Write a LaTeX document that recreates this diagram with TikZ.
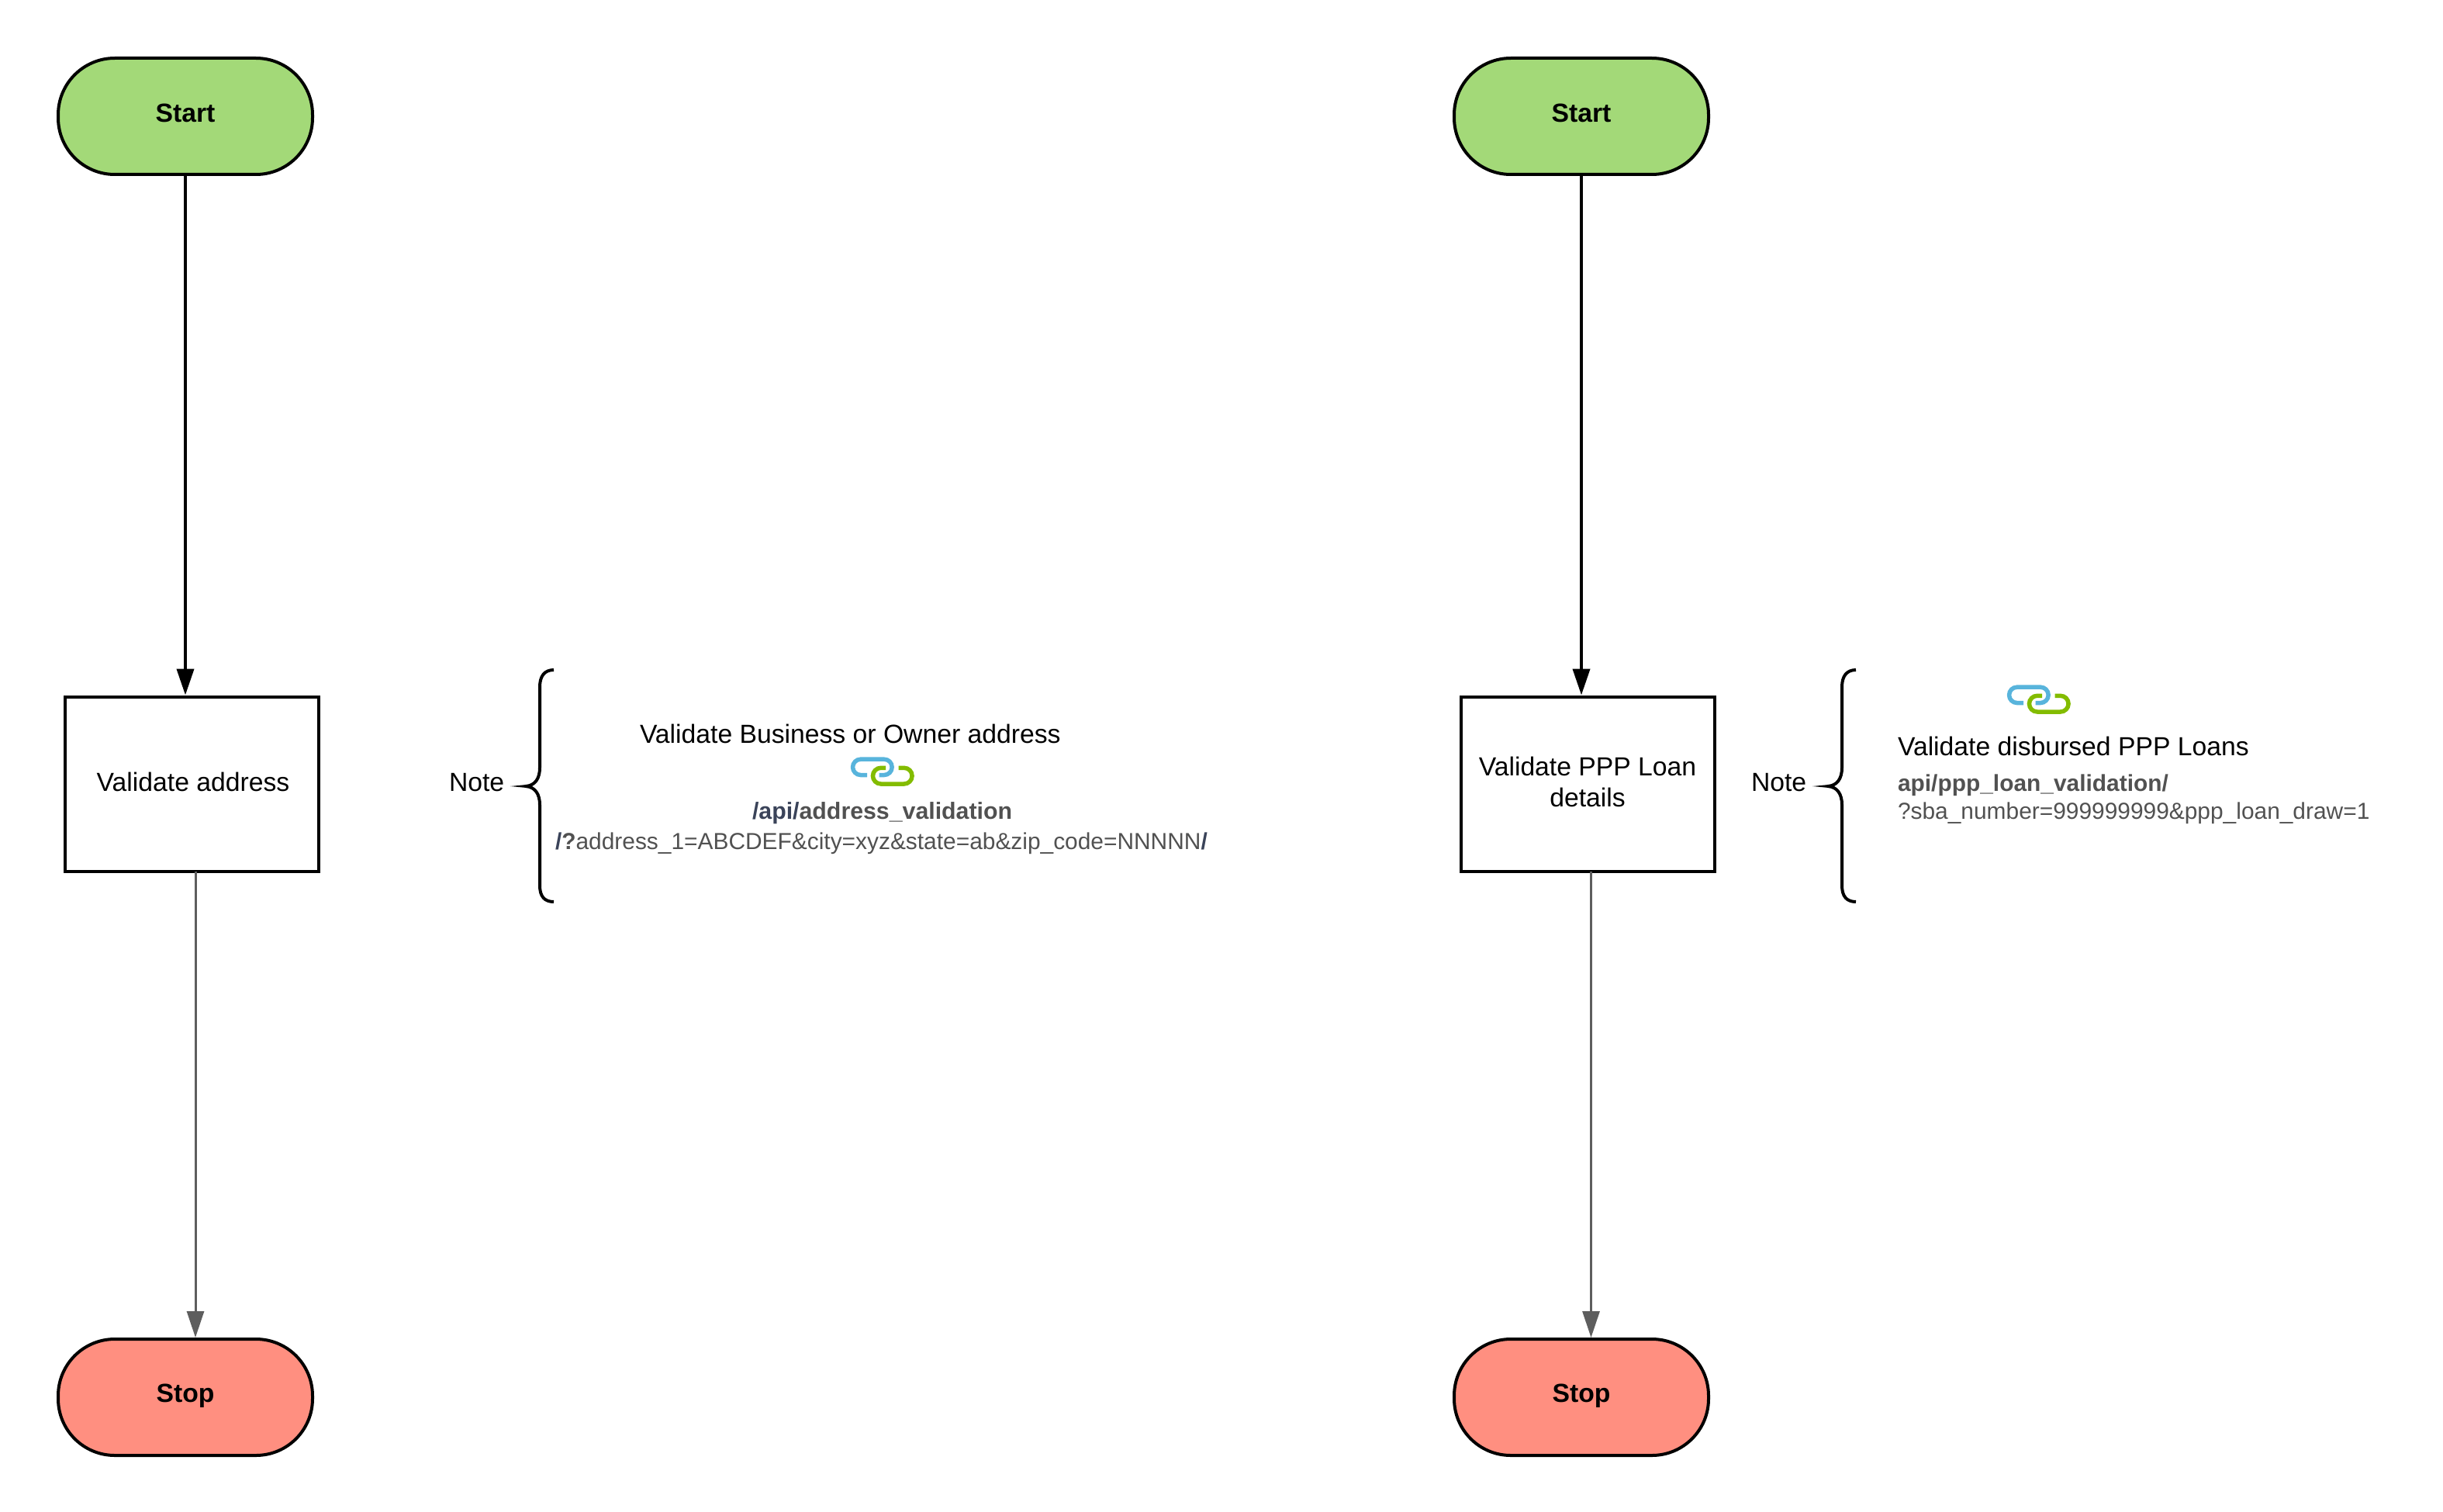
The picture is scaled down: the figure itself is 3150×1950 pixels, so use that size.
\documentclass[tikz,border=0pt]{standalone}
\usepackage{fontspec}
\setmainfont{Liberation Sans}
\usetikzlibrary{arrows.meta}
\definecolor{startgreen}{HTML}{A3D978}
\definecolor{stopred}{HTML}{FF8F80}
\definecolor{linkgray}{HTML}{5E5E5E}
\definecolor{apitext}{HTML}{515151}
\definecolor{apinavy}{HTML}{3A4359}
\definecolor{linkblue}{HTML}{58B4DC}
\definecolor{linkgreen}{HTML}{83BC00}
\newcommand{\bodyfont}{\fontsize{33.7}{40}\selectfont}
\newcommand{\apifont}{\fontsize{29.9}{36}\selectfont}
\newcommand{\apiheadfont}{\fontsize{30.3}{36}\selectfont}
\tikzset{
  x=1pt, y=-1pt,
  terminal/.style={draw=black, line width=4pt, rounded corners=73pt, minimum width=328pt, minimum height=150pt, inner sep=0pt, outer sep=0pt, text height=26pt, text depth=10pt, font=\bodyfont\bfseries},
  startbox/.style={terminal, fill=startgreen},
  stopbox/.style={terminal, fill=stopred, text depth=13pt},
  procbox/.style={draw=black, line width=4pt, fill=white, minimum width=327pt, minimum height=225pt, inner sep=0pt, outer sep=0pt, align=center, text height=28pt, text depth=10pt, font=\bodyfont},
  label/.style={anchor=base west, inner sep=0pt, outer sep=0pt, font=\bodyfont},
  apilabel/.style={anchor=base west, inner sep=0pt, outer sep=0pt, font=\apifont, text=apitext},
  flowin/.style={draw=black, line width=4pt, -{Triangle[length=34pt,width=22pt]}, shorten >=2pt},
  flowout/.style={draw=linkgray, line width=3pt, -{Triangle[length=34pt,width=22pt]}, shorten >=2pt},
  bracepic/.pic={
    \draw[line width=4pt, line join=bevel, black]
      (56,-150) .. controls (44,-150) and (38,-142) .. (38,-128)
      -- (38,-24) .. controls (38,-10) and (32,-1) .. (20,0)
      .. controls (32,1) and (38,10) .. (38,24)
      -- (38,128) .. controls (38,142) and (44,149) .. (56,149);
    \fill[black] (0,0) -- (21,-2) -- (21,2) -- cycle;
  },
  linkpic/.pic={
    \draw[line width=5.5pt, linkblue]
      (21,23) -- (12.7,23) arc[start angle=-90, end angle=-270, x radius=10.15, y radius=-10.15]
      -- (43,2.7) arc[start angle=90, end angle=-90, x radius=10.15, y radius=-10.15] -- (36.5,23);
    \draw[line width=5.5pt, linkgreen]
      (45,13.8) -- (38.8,13.8) arc[start angle=90, end angle=270, x radius=10.35, y radius=-10.35]
      -- (68.7,34.5) arc[start angle=-90, end angle=90, x radius=10.35, y radius=-10.35] -- (61.7,13.8);
  }
}
\begin{document}
\begin{tikzpicture}
\useasboundingbox (0,0) rectangle (3150,1950);
% left column
\node[startbox] (startA) at (239,150) {Start};
\node[procbox]  (procA)  at (247.5,1011) {\hspace*{3pt}Validate address};
\node[stopbox]  (stopA)  at (239,1802) {Stop};
\draw[flowin]  (startA.south) -- (startA.south |- procA.north);
\draw[flowout] ([xshift=4.5pt]procA.south) -- ([xshift=13pt]stopA.north);
% right column
\node[startbox] (startB) at (2039,150) {Start};
\node[procbox, text height=68pt]  (procB)  at (2047,1011) {Validate PPP Loan\\details};
\node[stopbox]  (stopB)  at (2039,1802) {Stop};
\draw[flowin]  (startB.south) -- (startB.south |- procB.north);
\draw[flowout] ([xshift=4.5pt]procB.south) -- ([xshift=12.5pt]stopB.north);
% left note
\node[label] (noteA) at (579,1020) {Note};
\pic (braceA) at (658,1014) {bracepic};
\node[label] (titleA) at (825,958) {Validate Business or Owner address};
\pic (linkA) at (1097,976.5) {linkpic};
\node[apilabel, font=\apiheadfont] (apiA) at (970,1056.5) {\textbf{\textcolor{apinavy}{/api/}address\_validation}};
\node[apilabel] (queryA) at (716,1095.5) {\textbf{\textcolor{apinavy}{/}?}address\_1=ABCDEF\&city=xyz\&state=ab\&zip\_code=NNNNN\textbf{\textcolor{apinavy}{/}}};
% right note
\node[label] (noteB) at (2258,1020) {Note};
\pic (braceB) at (2337,1014) {bracepic};
\pic (linkB) at (2588,883.5) {linkpic};
\node[label] (titleB) at (2447,974) {Validate disbursed PPP Loans};
\node[apilabel] (apiB) at (2447,1020) {\textbf{api/ppp\_loan\_validation/}};
\node[apilabel] (queryB) at (2447,1056) {?sba\_number=999999999\&ppp\_loan\_draw=1};
\end{tikzpicture}
\end{document}
